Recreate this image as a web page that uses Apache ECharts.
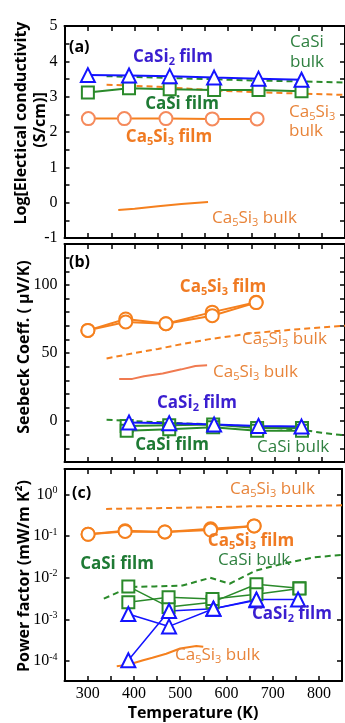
<!DOCTYPE html>
<html><head><meta charset="utf-8">
<script src="https://cdn.jsdelivr.net/npm/echarts@6/dist/echarts.min.js"></script>
<style>html,body{margin:0;padding:0;background:#fff}#c{width:345px;height:723px}</style>
</head><body><div id="c"></div>
<script>
// ---------- data ----------
const xTicks = [300, 400, 500, 600, 700, 800];
// panel (a) log conductivity
const aT_film = [300, 388, 475, 570, 665, 757];
const aCaSi2Film = [3.61, 3.60, 3.58, 3.54, 3.51, 3.48];
const aCaSiFilm = [3.12, 3.24, 3.21, 3.19, 3.19, 3.15];
const aT_ca5 = [301, 378, 467, 566, 662];
const aCa5Film = [2.38, 2.38, 2.38, 2.37, 2.37];
const aT_casiBulk = [340, 500, 650, 760, 850];
const aCaSiBulk = [3.58, 3.52, 3.46, 3.43, 3.40];
const aT_ca5BulkD = [340, 450, 580, 700, 850];
const aCa5BulkD = [3.34, 3.28, 3.17, 3.11, 3.05];
const aT_ca5BulkS = [365, 400, 450, 500, 557];
const aCa5BulkS = [-0.21, -0.17, -0.10, -0.04, 0.02];
// panel (b) Seebeck
const bT_ca5 = [300, 381, 467, 566, 660];
const bCa5Film1 = [66.6, 75.0, 71.5, 80.0, 87.3];
const bCa5Film2 = [66.6, 72.8, 71.5, 77.4, 87.0];
const bT_film = [388, 474, 570, 665, 757];
const bCaSi2Film = [-1.0, -1.5, -2.5, -3.5, -4.0];
const bT_casi = [383, 474, 568, 662, 758];
const bCaSiFilm1 = [-3.5, -3.0, -2.5, -5.0, -5.0];
const bCaSiFilm2 = [-7.0, -6.0, -4.5, -7.0, -7.0];
const bT_ca5BulkD = [340, 400, 450, 500, 557, 650, 750, 850];
const bCa5BulkD = [46, 50, 53, 56.5, 60, 64.5, 67.5, 70];
const bT_ca5BulkS = [367, 395, 420, 460, 500, 530, 555];
const bCa5BulkS = [31, 31, 33, 35, 38, 40.5, 41];
const bT_casiBulk = [340, 400, 500, 600, 700, 760, 800, 850];
const bCaSiBulk = [1, 0, -1.5, -3, -5, -6.5, -8.5, -10.5];
// panel (c) power factor
const cT_ca5 = [301, 381, 467, 566, 660];
const cCa5Film1 = [0.111, 0.134, 0.126, 0.151, 0.176];
const cCa5Film2 = [0.111, 0.130, 0.126, 0.140, 0.176];
const cT_ca5BulkD = [340, 450, 550, 650, 750, 850];
const cCa5BulkD = [0.45, 0.47, 0.49, 0.52, 0.53, 0.55];
const cT_casi = [388, 475, 570, 665, 758];
const cCaSiFilm1 = [0.0062, 0.0020, 0.0026, 0.0070, 0.0056];
const cCaSiFilm2 = [0.0026, 0.0034, 0.0031, 0.0040, 0.0055];
const cT_casi2a = [388, 476, 572, 665];
const cCaSi2Film1 = [0.00135, 0.00068, 0.0018, 0.0029];
const cT_casi2b = [388, 476, 572, 665, 755];
const cCaSi2Film2 = [0.000105, 0.0016, 0.0018, 0.0030, 0.0030];
const cT_casiBulk = [335, 392, 445, 505, 565, 607, 663, 720, 790, 850];
const cCaSiBulk = [0.00316, 0.0060, 0.0062, 0.0065, 0.010, 0.0072, 0.0148, 0.0214, 0.031, 0.0355];
const cT_ca5BulkS = [363, 380, 400, 420, 440, 470, 500, 535, 550];
const cCa5BulkS = [7.5e-5, 8e-5, 9e-5, 1.05e-4, 1.2e-4, 1.5e-4, 2.0e-4, 2.3e-4, 2.2e-4];

// ---------- style ----------
const BLUE = '#1414ff', BLUE_T = '#3a1ed0';
const GREEN = '#2a8a2a', GREEN_T = '#1e7a34', GREEN_B = '#2f8040';
const ORANGE = '#f5801e', ORANGE_T = '#f07a22', ORANGE_B = '#e8843a', SALMON = '#f58a5c';
const SANS = '"Open Sans", "Noto Sans", sans-serif';
const SERIF = 'Liberation Serif';

const zip = (t, v) => t.map((x, i) => [x, v[i]]);
const grids = [
  {left: 64.5, right: -3, top: 26, height: 212},
  {left: 64.5, right: -3, top: 244, height: 218},
  {left: 64.5, right: -3, top: 469, height: 212}
];
const tick = {show: true, inside: true, length: 5, lineStyle: {color: '#000', width: 1.5}};
const line = {show: true, onZero: false, lineStyle: {color: '#000', width: 2}};
const xAxes = [], yAxes = [];
[0, 1, 2].forEach(g => {
  ['bottom', 'top'].forEach(pos => {
    xAxes.push({
      type: 'value', gridIndex: g, position: pos, min: 250, max: 850, interval: 50,
      axisLine: line, axisTick: tick, splitLine: {show: false},
      axisLabel: {show: g === 2 && pos === 'bottom', margin: 5, fontFamily: SERIF, fontSize: 16, color: '#000',
        formatter: v => xTicks.indexOf(v) >= 0 ? String(v) : ''}
    });
  });
});
const yCfg = [
  {type: 'value', min: -1, max: 5, interval: 0.5, fmt: v => Number.isInteger(v) ? String(v) : ''},
  {type: 'value', min: -30, max: 130, interval: 10, fmt: v => (v % 50 === 0) ? String(v) : ''},
  {type: 'log', min: Math.pow(10, -4.478), max: Math.pow(10, 0.612), fmt: v => {
      const l = Math.log10(v), e = Math.round(l);
      return Math.abs(l - e) < 0.01 ? '{b|10}{s|' + e + '}' : '';
    }}
];
yCfg.forEach((c, g) => {
  ['left', 'right'].forEach(pos => {
    const ax = {
      type: c.type, gridIndex: g, position: pos, min: c.min, max: c.max,
      axisLine: line, axisTick: tick, splitLine: {show: false}, minorTick: {show: false},
      axisLabel: {show: pos === 'left', margin: 7, fontFamily: SERIF, fontSize: 16, color: '#000', formatter: c.fmt,
        rich: {b: {fontFamily: SERIF, fontSize: 16, color: '#000', lineHeight: 18},
               s: {fontFamily: SERIF, fontSize: 10, color: '#000', lineHeight: 10, verticalAlign: 'top'}}}
    };
    if (c.interval) ax.interval = c.interval;
    if (c.type === 'log') ax.logBase = 10;
    yAxes.push(ax);
  });
});

function film(g, t, v, sym, size, col, fill, lw) {
  return {type: 'line', xAxisIndex: g * 2, yAxisIndex: g * 2, data: zip(t, v), z: 4,
    symbol: sym, symbolSize: size, showSymbol: true,
    lineStyle: {color: col, width: lw || 2},
    itemStyle: {color: '#fff', borderColor: fill || col, borderWidth: 2}};
}
function bulk(g, t, v, col, dashed) {
  return {type: 'line', xAxisIndex: g * 2, yAxisIndex: g * 2, data: zip(t, v), z: 2,
    symbol: 'none', smooth: false,
    lineStyle: {color: col, width: 2, type: dashed ? [6, 4] : 'solid'}};
}
const series = [
  // (a)
  bulk(0, aT_casiBulk, aCaSiBulk, GREEN, true),
  bulk(0, aT_ca5BulkD, aCa5BulkD, ORANGE, true),
  bulk(0, aT_ca5BulkS, aCa5BulkS, ORANGE, false),
  film(0, aT_ca5, aCa5Film, 'circle', 13, ORANGE, SALMON),
  film(0, aT_film, aCaSiFilm, 'rect', 12, GREEN),
  film(0, aT_film, aCaSi2Film, 'triangle', 14, BLUE),
  // (b)
  bulk(1, bT_ca5BulkD, bCa5BulkD, ORANGE, true),
  bulk(1, bT_ca5BulkS, bCa5BulkS, '#f07a50', false),
  bulk(1, bT_casiBulk, bCaSiBulk, GREEN, true),
  film(1, bT_ca5, bCa5Film1, 'circle', 13, ORANGE),
  film(1, bT_ca5, bCa5Film2, 'circle', 13, ORANGE),
  film(1, bT_casi, bCaSiFilm1, 'rect', 12, GREEN),
  film(1, bT_casi, bCaSiFilm2, 'rect', 12, GREEN),
  film(1, bT_film, bCaSi2Film, 'triangle', 14, BLUE),
  // (c)
  bulk(2, cT_ca5BulkD, cCa5BulkD, ORANGE, true),
  bulk(2, cT_casiBulk, cCaSiBulk, GREEN, true),
  bulk(2, cT_ca5BulkS, cCa5BulkS, ORANGE, false),
  film(2, cT_ca5, cCa5Film1, 'circle', 13, ORANGE),
  film(2, cT_ca5, cCa5Film2, 'circle', 13, ORANGE),
  film(2, cT_casi, cCaSiFilm1, 'rect', 12, GREEN, null, 1.5),
  film(2, cT_casi, cCaSiFilm2, 'rect', 12, GREEN, null, 1.5),
  film(2, cT_casi2a, cCaSi2Film1, 'triangle', 14, BLUE, null, 1.5),
  film(2, cT_casi2b, cCaSi2Film2, 'triangle', 14, BLUE, null, 1.5)
];

// ---------- annotation text ----------
function rt(x, y, parts, col, bold, align, size, rot) {
  size = size || 17;
  const w = bold ? 'bold' : 'normal';
  const text = parts.map(p => (p[1] ? '{s|' : '{m|') + p[0] + '}').join('');
  return {type: 'text', x: x, y: y, rotation: rot || 0, z: 10, silent: true,
    style: {text: text, fill: col, font: w + ' ' + size + 'px ' + SANS,
      align: align || 'left', verticalAlign: 'middle', textAlign: align || 'left', textVerticalAlign: 'middle',
      rich: {
        m: {fontSize: size, fontWeight: w, fontFamily: SANS, fill: col, color: col, lineHeight: 20},
        s: {fontSize: Math.round(size * 0.65), fontWeight: w, fontFamily: SANS, fill: col, color: col, lineHeight: 11, verticalAlign: 'bottom'}
      }}};
}
const CA5 = s => [['Ca'], ['5', 1], ['Si'], ['3', 1], [s]];
const CASI2 = s => [['CaSi'], ['2', 1], [s]];
const graphic = [
  // (a)
  rt(69, 47, [['(a)']], '#000', true, 'left', 16),
  rt(173, 57, CASI2(' film'), BLUE_T, true, 'center'),
  rt(182, 104, [['CaSi film']], GREEN_T, true, 'center'),
  rt(169, 137, CA5(' film'), ORANGE_T, true, 'center'),
  rt(290, 42, [['CaSi']], GREEN_B, false),
  rt(290, 62, [['bulk']], GREEN_B, false),
  rt(289, 112, CA5(''), ORANGE_B, false),
  rt(289, 131, [['bulk']], ORANGE_B, false),
  rt(212, 218, CA5(' bulk'), ORANGE_B, false),
  // (b)
  rt(69, 262, [['(b)']], '#000', true, 'left', 16),
  rt(223, 287, CA5(' film'), ORANGE_T, true, 'center'),
  rt(242, 339, CA5(' bulk'), ORANGE_B, false),
  rt(213, 372, CA5(' bulk'), ORANGE_B, false),
  rt(197, 403, CASI2(' film'), BLUE_T, true, 'center'),
  rt(172, 445, [['CaSi film']], GREEN_T, true, 'center'),
  rt(257, 447, [['CaSi bulk']], GREEN_B, false),
  // (c)
  rt(72, 493, [['(c)']], '#000', true, 'left', 16),
  rt(230, 489, CA5(' bulk'), ORANGE_B, false),
  rt(251, 541, CA5(' film'), ORANGE_T, true, 'center'),
  rt(117, 564, [['CaSi film']], GREEN_T, true, 'center'),
  rt(218, 560, [['CaSi bulk']], GREEN_B, false),
  rt(292, 614, CASI2(' film'), BLUE_T, true, 'center'),
  rt(175, 655, CA5(' bulk'), ORANGE_B, false),
  // axis titles
  rt(193, 713, [['Temperature (K)']], '#000', true, 'center', 16),
  rt(21, 123, [['Log[Electical conductivity']], '#000', true, 'center', 16, Math.PI / 2),
  rt(40, 120, [['(S/cm)]']], '#000', true, 'center', 16, Math.PI / 2),
  rt(24, 347, [['Seebeck Coeff. ( μV/K)']], '#000', true, 'center', 16, Math.PI / 2),
  rt(24, 576, [['Power factor (mW/m K²)']], '#000', true, 'center', 16, Math.PI / 2)
];

const chart = echarts.init(document.getElementById('c'), null, {renderer: 'canvas'});
chart.setOption({animation: false, backgroundColor: '#fff', grid: grids, xAxis: xAxes, yAxis: yAxes, series: series, graphic: graphic});
</script></body></html>
